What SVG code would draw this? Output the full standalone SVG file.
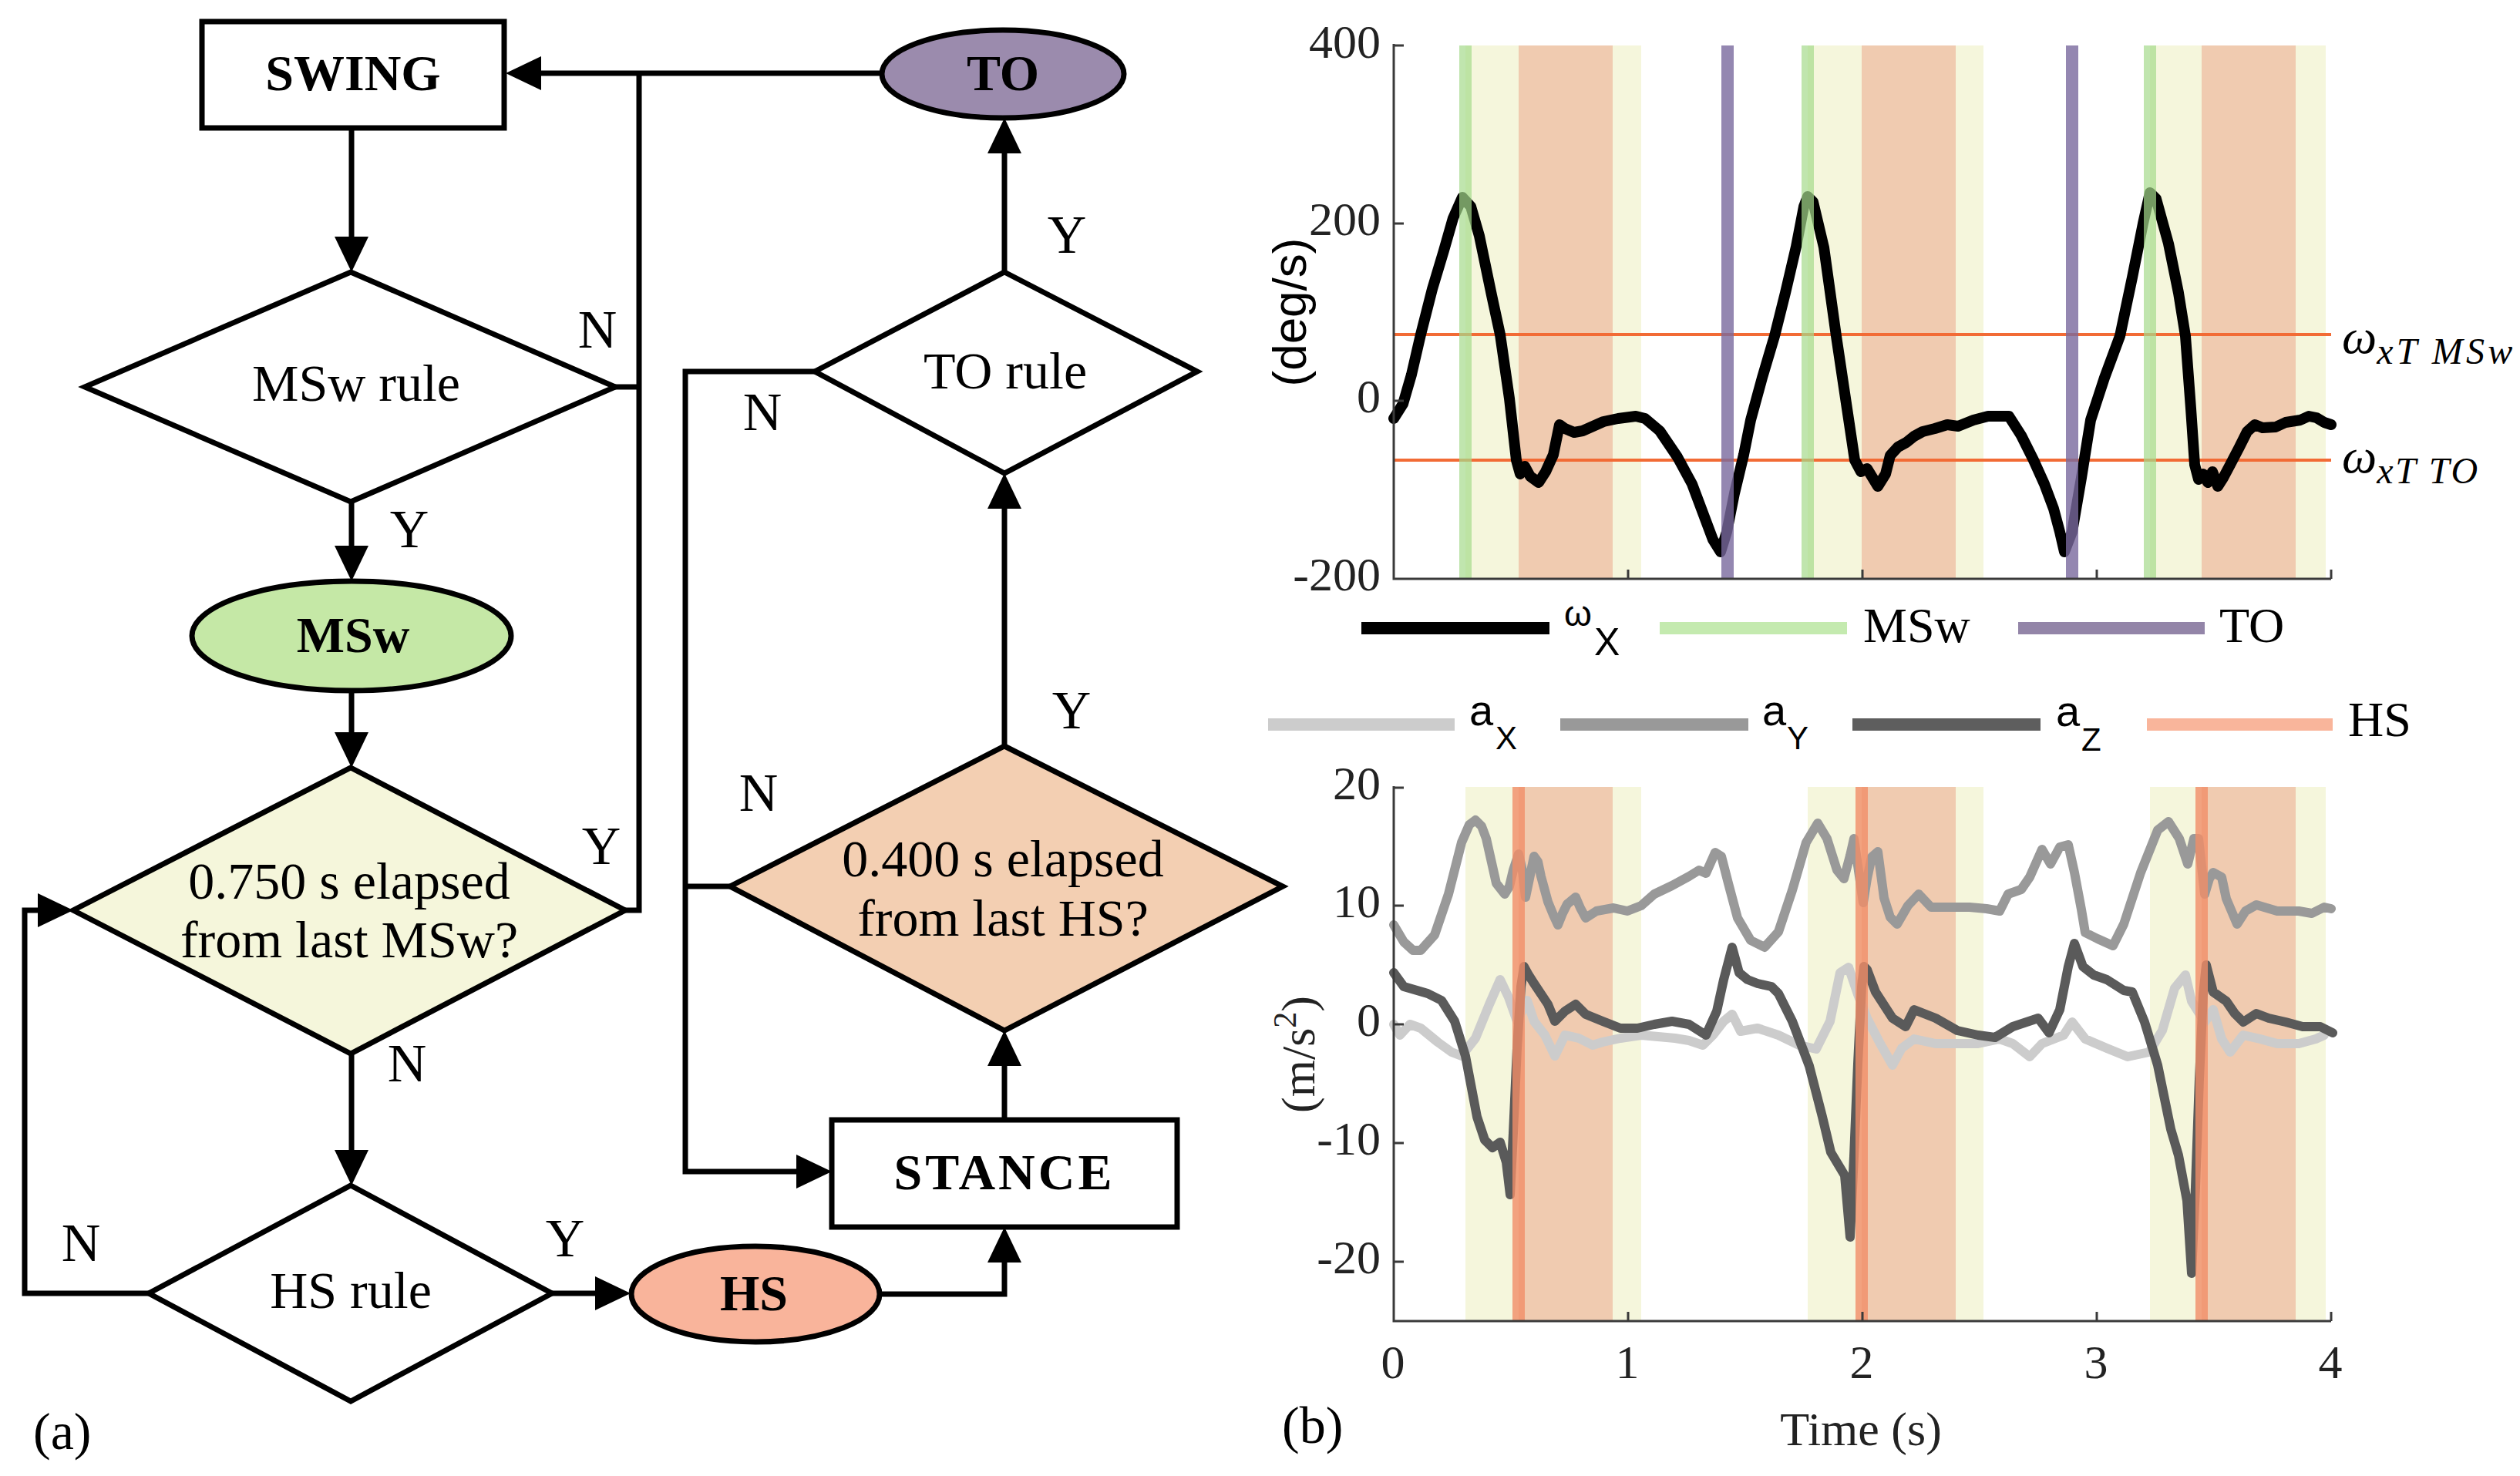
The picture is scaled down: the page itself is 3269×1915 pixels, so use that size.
<svg xmlns="http://www.w3.org/2000/svg" width="3269" height="1915" viewBox="0 0 3269 1915">
<defs>
<style>
.sh{fill:#fff;stroke:#000;stroke-width:7;stroke-linejoin:miter}
.cn{fill:none;stroke:#000;stroke-width:7;stroke-linejoin:miter}
.t{font-family:"Liberation Serif","DejaVu Serif",serif;font-size:68px;fill:#000;text-anchor:middle}
.b{font-weight:bold;font-size:66px}
.yn{font-family:"Liberation Serif","DejaVu Serif",serif;font-size:70px;fill:#000;text-anchor:middle}
.tk{font-family:"Liberation Serif","DejaVu Serif",serif;font-size:62px;fill:#222;text-anchor:end}
.tx{font-family:"Liberation Serif","DejaVu Serif",serif;font-size:62px;fill:#222;text-anchor:middle}
.lg{font-family:"Liberation Serif","DejaVu Serif",serif;font-size:64px;fill:#000}
.sans{font-family:"Liberation Sans","DejaVu Sans",sans-serif;fill:#000}
.ax{fill:none;stroke:#3a3a3a;stroke-width:3}
.yb{fill:#F5F6DC}
.ob{fill:#F0CBB0}
.ms{stroke:#A6DB8C;stroke-width:16;opacity:0.7}
.to{stroke:#7A6A9E;stroke-width:16;opacity:0.8}
.hs{stroke:#F28E68;stroke-width:16;opacity:0.8}
.th{stroke:#F26B35;stroke-width:4}
.cv{fill:none;stroke-linejoin:round;stroke-linecap:round}
.it{font-family:"Liberation Serif","DejaVu Serif",serif;font-style:italic;fill:#000}
</style>
<marker id="ah" viewBox="0 0 46 44" refX="26" refY="22" markerWidth="46" markerHeight="44" markerUnits="userSpaceOnUse" orient="auto">
<path d="M0,0 L46,22 L0,44 Z" fill="#000"/>
</marker>
</defs>
<rect width="3269" height="1915" fill="#fff"/>

<!-- ================= (a) flowchart ================= -->
<g id="connectors">
<path class="cn" d="M1144,95 L676,95" marker-end="url(#ah)"/>
<path class="cn" d="M797,502 L829,502"/>
<path class="cn" d="M811,1181 L829,1181 L829,95"/>
<path class="cn" d="M456,166 L456,333" marker-end="url(#ah)"/>
<path class="cn" d="M456,651 L456,734" marker-end="url(#ah)"/>
<path class="cn" d="M456,896 L456,976" marker-end="url(#ah)"/>
<path class="cn" d="M456,1367 L456,1518" marker-end="url(#ah)"/>
<path class="cn" d="M193,1678 L32,1678 L32,1181 L75,1181" marker-end="url(#ah)"/>
<path class="cn" d="M716,1678 L798,1678" marker-end="url(#ah)"/>
<path class="cn" d="M1142,1679 L1303,1679 L1303,1612" marker-end="url(#ah)"/>
<path class="cn" d="M1303,1453 L1303,1357" marker-end="url(#ah)"/>
<path class="cn" d="M1303,968 L1303,634" marker-end="url(#ah)"/>
<path class="cn" d="M1303,353 L1303,173" marker-end="url(#ah)"/>
<path class="cn" d="M1057,482 L889,482 L889,1520 L1059,1520" marker-end="url(#ah)"/>
<path class="cn" d="M947,1150 L889,1150"/>
<text class="yn" x="775" y="451">N</text>
<text class="yn" x="531" y="710">Y</text>
<text class="yn" x="1384" y="328">Y</text>
<text class="yn" x="989" y="558">N</text>
<text class="yn" x="780" y="1121">Y</text>
<text class="yn" x="984" y="1052">N</text>
<text class="yn" x="1390" y="945">Y</text>
<text class="yn" x="528" y="1403">N</text>
<text class="yn" x="105" y="1636">N</text>
<text class="yn" x="733" y="1630">Y</text>
</g>

<g id="swing">
<rect class="sh" x="262" y="28" width="392" height="138"/>
<text class="t b" x="458" y="117">SWING</text>
</g>
<g id="to">
<ellipse class="sh" cx="1301" cy="96" rx="157" ry="57" style="fill:#9B8BAD"/>
<text class="t b" x="1301" y="117">TO</text>
</g>
<g id="msw-rule">
<polygon class="sh" points="455,353 798,502 455,651 110,502"/>
<text class="t" x="462" y="520">MSw rule</text>
</g>
<g id="to-rule">
<polygon class="sh" points="1303,353 1553,482 1303,614 1057,482"/>
<text class="t" x="1304" y="504">TO rule</text>
</g>
<g id="msw">
<ellipse class="sh" cx="456" cy="825" rx="207" ry="71" style="fill:#C5E8A6"/>
<text class="t b" x="458" y="846">MSw</text>
</g>
<g id="elapsed-msw">
<polygon class="sh" points="455,996 811,1181 455,1367 95,1181" style="fill:#F5F6DB"/>
<text class="t" x="453" y="1166">0.750 s elapsed</text>
<text class="t" x="453" y="1242">from last MSw?</text>
</g>
<g id="elapsed-hs">
<polygon class="sh" points="1303,968 1664,1150 1303,1337 947,1150" style="fill:#F3CFB2"/>
<text class="t" x="1301" y="1137">0.400 s elapsed</text>
<text class="t" x="1301" y="1214">from last HS?</text>
</g>
<g id="stance">
<rect class="sh" x="1079" y="1453" width="448" height="139"/>
<text class="t b" x="1303" y="1543" letter-spacing="4">STANCE</text>
</g>
<g id="hs-rule">
<polygon class="sh" points="455,1538 716,1678 455,1818 193,1678"/>
<text class="t" x="455" y="1697">HS rule</text>
</g>
<g id="hs">
<ellipse class="sh" cx="980" cy="1679" rx="161" ry="62" style="fill:#F9B49B"/>
<text class="t b" x="978" y="1700">HS</text>
</g>
<text class="t" x="43" y="1880" style="text-anchor:start">(a)</text>

<!-- ================= (b) plots ================= -->
<g id="plot-top">
<rect class="yb" x="1901" y="59" width="228" height="692"/>
<rect class="yb" x="2345" y="59" width="228" height="692"/>
<rect class="yb" x="2789" y="59" width="228" height="692"/>
<rect class="ob" x="1970" y="59" width="122" height="692"/>
<rect class="ob" x="2415" y="59" width="122" height="692"/>
<rect class="ob" x="2856" y="59" width="122" height="692"/>
<line class="th" x1="1808" y1="434" x2="3024" y2="434"/>
<line class="th" x1="1808" y1="597" x2="3024" y2="597"/>
<polyline class="cv" stroke="#000" stroke-width="14" points="1808,543 1820,524 1831,486 1843,434 1858,375 1873,325 1885,283 1897,256 1908,268 1919,306 1935,383 1946,434 1958,517 1967,597 1972,615 1978,605 1985,618 1996,626 2005,612 2015,590 2023,551 2030,556 2042,561 2053,559 2080,547 2099,543 2122,540 2134,543 2153,559 2176,593 2195,628 2210,668 2222,700 2232,716 2240,690 2250,640 2262,590 2271,545 2286,490 2302,436 2316,380 2330,320 2340,268 2345,255 2352,262 2366,321 2382,436 2396,530 2406,597 2414,612 2422,608 2436,631 2446,615 2452,591 2462,580 2473,574 2483,566 2494,560 2510,556 2526,551 2540,553 2560,545 2579,540 2606,540 2622,565 2638,597 2652,628 2664,660 2672,690 2678,716 2688,690 2700,620 2712,545 2730,490 2750,436 2766,360 2780,290 2789,250 2797,258 2813,316 2826,380 2835,436 2842,530 2847,603 2852,622 2858,615 2864,626 2870,612 2877,631 2884,620 2893,603 2905,580 2915,560 2925,551 2935,555 2952,554 2965,548 2984,545 2995,540 3005,542 3015,548 3024,551"/>
<line class="ms" x1="1901" y1="59" x2="1901" y2="751"/>
<line class="ms" x1="2345" y1="59" x2="2345" y2="751"/>
<line class="ms" x1="2789" y1="59" x2="2789" y2="751"/>
<line class="to" x1="2241" y1="59" x2="2241" y2="751"/>
<line class="to" x1="2688" y1="59" x2="2688" y2="751"/>
<path class="ax" d="M1808,57 L1808,751 L3024,751 M1808,59 L1821,59 M1808,290 L1821,290 M1808,520 L1821,520 M2112,751 L2112,739 M2416,751 L2416,739 M2720,751 L2720,739 M3024,751 L3024,739"/>
<text class="tk" x="1791" y="75">400</text>
<text class="tk" x="1791" y="305">200</text>
<text class="tk" x="1791" y="535">0</text>
<text class="tk" x="1791" y="766">-200</text>
<text class="sans" font-size="62" fill="#333" text-anchor="middle" transform="translate(1694,405) rotate(-90)">(deg/s)</text>
<text class="it" x="3038" y="458" font-size="64">ω<tspan font-size="48" dy="14" textLength="176" lengthAdjust="spacing">xT MSw</tspan></text>
<text class="it" x="3038" y="613" font-size="64">ω<tspan font-size="48" dy="14" textLength="131" lengthAdjust="spacing">xT TO</tspan></text>
</g>

<g id="legend-top">
<line x1="1766" y1="815" x2="2010" y2="815" stroke="#000" stroke-width="16"/>
<text class="sans" x="2029" y="812" font-size="46">ω</text>
<text class="sans" x="2068" y="850" font-size="50">X</text>
<line x1="2153" y1="815" x2="2396" y2="815" stroke="#C4EAAF" stroke-width="16"/>
<text class="lg" x="2417" y="833">MSw</text>
<line x1="2618" y1="815" x2="2860" y2="815" stroke="#9385A8" stroke-width="16"/>
<text class="lg" x="2879" y="833">TO</text>
</g>

<g id="legend-bottom">
<line x1="1645" y1="940" x2="1887" y2="940" stroke="#CCCCCC" stroke-width="16"/>
<text class="sans" x="1906" y="941" font-size="56">a</text>
<text class="sans" x="1940" y="972" font-size="42">X</text>
<line x1="2024" y1="940" x2="2268" y2="940" stroke="#999999" stroke-width="16"/>
<text class="sans" x="2286" y="941" font-size="56">a</text>
<text class="sans" x="2318" y="972" font-size="42">Y</text>
<line x1="2403" y1="940" x2="2647" y2="940" stroke="#5E5E5E" stroke-width="16"/>
<text class="sans" x="2667" y="942" font-size="56">a</text>
<text class="sans" x="2700" y="974" font-size="42">Z</text>
<line x1="2785" y1="940" x2="3026" y2="940" stroke="#F9B59B" stroke-width="16"/>
<text class="lg" x="3046" y="955">HS</text>
</g>

<g id="plot-bottom">
<rect class="yb" x="1901" y="1021" width="228" height="693"/>
<rect class="yb" x="2345" y="1021" width="228" height="693"/>
<rect class="yb" x="2789" y="1021" width="228" height="693"/>
<rect class="ob" x="1970" y="1021" width="122" height="693"/>
<rect class="ob" x="2415" y="1021" width="122" height="693"/>
<rect class="ob" x="2856" y="1021" width="122" height="693"/>
<polyline class="cv" stroke="#CCCCCC" stroke-width="12" points="1808,1329 1816,1343 1829,1329 1843,1334 1865,1352 1883,1365 1896,1370 1914,1347 1932,1303 1946,1271 1957,1294 1968,1325 1981,1298 1990,1325 2004,1343 2017,1370 2030,1343 2048,1347 2066,1356 2079,1352 2102,1347 2129,1343 2151,1345 2173,1347 2191,1350 2209,1356 2222,1343 2236,1325 2247,1316 2258,1338 2280,1334 2307,1343 2334,1356 2356,1361 2374,1325 2387,1262 2398,1255 2410,1290 2422,1321 2439,1354 2455,1382 2467,1360 2483,1348 2511,1354 2539,1354 2566,1354 2594,1348 2611,1354 2633,1371 2649,1354 2677,1343 2688,1326 2705,1348 2733,1360 2760,1371 2788,1365 2805,1337 2821,1282 2835,1265 2843,1299 2860,1326 2871,1310 2882,1348 2893,1365 2910,1343 2932,1348 2954,1354 2982,1354 3004,1348 3015,1343"/>
<polyline class="cv" stroke="#999999" stroke-width="12" points="1808,1200 1821,1222 1833,1233 1843,1233 1861,1213 1879,1160 1896,1093 1906,1070 1914,1064 1922,1072 1928,1088 1941,1146 1952,1160 1958,1150 1963,1129 1970,1108 1975,1130 1979,1164 1984,1140 1990,1111 1995,1118 1999,1137 2008,1170 2015,1187 2021,1200 2027,1185 2033,1173 2044,1164 2050,1178 2057,1191 2071,1182 2093,1178 2111,1182 2129,1175 2146,1160 2169,1149 2191,1137 2204,1129 2213,1133 2225,1106 2233,1111 2242,1146 2254,1191 2271,1220 2289,1229 2307,1209 2325,1155 2343,1093 2358,1068 2370,1088 2383,1129 2392,1140 2400,1110 2405,1088 2411,1130 2417,1171 2422,1140 2428,1112 2436,1105 2444,1165 2452,1190 2461,1199 2475,1175 2489,1160 2505,1177 2527,1177 2555,1177 2577,1179 2594,1182 2605,1160 2622,1154 2633,1138 2649,1102 2660,1121 2672,1099 2683,1096 2691,1132 2700,1180 2705,1210 2721,1218 2741,1227 2755,1199 2777,1132 2799,1077 2813,1066 2827,1088 2838,1121 2846,1088 2852,1088 2860,1160 2866,1140 2871,1132 2882,1138 2888,1166 2902,1199 2913,1182 2927,1174 2954,1182 2982,1182 2999,1185 3015,1177 3024,1179"/>
<polyline class="cv" stroke="#5A5A5A" stroke-width="12" points="1808,1262 1821,1280 1852,1289 1870,1298 1887,1325 1901,1370 1916,1449 1926,1479 1936,1489 1946,1482 1954,1508 1959,1550 1963,1470 1968,1360 1973,1280 1977,1254 1983,1265 1990,1276 2008,1303 2017,1325 2030,1312 2044,1303 2057,1316 2079,1325 2102,1334 2124,1334 2146,1329 2169,1325 2191,1329 2213,1343 2227,1312 2236,1271 2247,1229 2256,1262 2267,1271 2280,1276 2298,1280 2307,1289 2325,1325 2347,1383 2364,1449 2375,1495 2393,1525 2400,1605 2405,1500 2410,1380 2415,1280 2418,1254 2422,1258 2433,1287 2455,1321 2472,1332 2483,1310 2511,1321 2539,1337 2566,1343 2588,1346 2611,1332 2644,1321 2658,1340 2672,1310 2683,1254 2691,1224 2702,1254 2716,1265 2733,1271 2755,1285 2766,1287 2782,1326 2799,1382 2816,1465 2826,1499 2837,1558 2843,1652 2848,1540 2853,1400 2858,1290 2862,1252 2871,1287 2888,1299 2899,1315 2910,1326 2927,1315 2943,1321 2965,1326 2987,1332 3010,1332 3026,1340"/>
<line class="hs" x1="1970" y1="1021" x2="1970" y2="1714"/>
<line class="hs" x1="2415" y1="1021" x2="2415" y2="1714"/>
<line class="hs" x1="2856" y1="1021" x2="2856" y2="1714"/>
<path class="ax" d="M1808,1020 L1808,1714 L3024,1714 M1808,1022 L1821,1022 M1808,1175 L1821,1175 M1808,1329 L1821,1329 M1808,1483 L1821,1483 M1808,1637 L1821,1637 M2112,1714 L2112,1702 M2416,1714 L2416,1702 M2720,1714 L2720,1702 M3024,1714 L3024,1702"/>
<text class="tk" x="1791" y="1037">20</text>
<text class="tk" x="1791" y="1190">10</text>
<text class="tk" x="1791" y="1344">0</text>
<text class="tk" x="1791" y="1498">-10</text>
<text class="tk" x="1791" y="1652">-20</text>
<text class="tx" x="1807" y="1788">0</text>
<text class="tx" x="2111" y="1788">1</text>
<text class="tx" x="2415" y="1788">2</text>
<text class="tx" x="2719" y="1788">3</text>
<text class="tx" x="3023" y="1788">4</text>
<text class="tx" x="2414" y="1875" font-size="66" fill="#000">Time (s)</text>
<text class="tx" font-size="62" fill="#000" transform="translate(1705,1368) rotate(-90)">(m/s<tspan font-size="42" dy="-24">2</tspan><tspan dy="24">)</tspan></text>
</g>
<text class="t" x="1663" y="1872" style="text-anchor:start">(b)</text>
</svg>
